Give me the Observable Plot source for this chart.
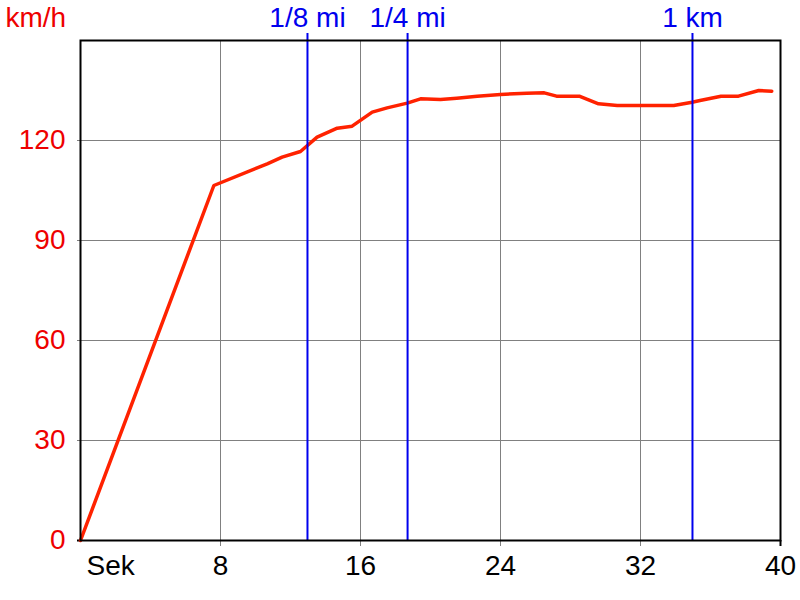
<!DOCTYPE html>
<html>
<head>
<meta charset="utf-8">
<script src="https://cdn.jsdelivr.net/npm/d3@7"></script>
<script src="https://cdn.jsdelivr.net/npm/@observablehq/plot@0.6"></script>
<style>
  html, body { margin: 0; padding: 0; background: #fff; }
  svg { display: block; }
</style>
</head>
<body>
<div id="chart"></div>
<script>
const seconds = [0, 7.62, 10.67, 11.52, 12.57, 13.52, 14.67, 15.52, 16.67, 17.52, 18.67, 19.43, 20.57, 21.5, 22.67, 24, 25.5, 26.5, 27.2, 28.5, 29.6, 30.67, 32, 33.9, 34.95, 35.4, 36.6, 37.6, 38.76, 39.5];
const speed   = [0, 106.5, 113, 115, 116.7, 121, 123.7, 124.3, 128.5, 129.8, 131.2, 132.5, 132.3, 132.7, 133.3, 133.8, 134.2, 134.3, 133.3, 133.3, 131, 130.5, 130.5, 130.5, 131.5, 132, 133.3, 133.3, 135, 134.8];
const markerTimes  = [12.97, 18.69, 34.97];
const markerLabels = ["1/8 mi", "1/4 mi", "1 km"];
const xTicks = [8, 16, 24, 32, 40];
const yTicks = [0, 30, 60, 90, 120];
const xUnit = "Sek";
const yUnit = "km/h";

const data = seconds.map((t, i) => ({t, v: speed[i]}));
const markers = markerTimes.map((t, i) => ({t, label: markerLabels[i]}));

const FONT = "Arial, 'Liberation Sans', sans-serif";
const FS = 28;
const RED = "#ff2200";
const TEXTRED = "#ee0000";
const BLUE = "#0000ee";
const GRAY = "#808080";

const chart = Plot.plot({
  width: 800,
  height: 600,
  marginLeft: 80,
  marginRight: 20,
  marginTop: 40,
  marginBottom: 60,
  style: {fontFamily: FONT, fontSize: FS + "px", background: "#fff"},
  x: {domain: [0, 40]},
  y: {domain: [0, 150]},
  marks: [
    Plot.gridX(xTicks.slice(0, -1), {stroke: GRAY, strokeOpacity: 1, strokeWidth: 1}),
    Plot.gridY(yTicks.slice(1), {stroke: GRAY, strokeOpacity: 1, strokeWidth: 1}),
    Plot.axisX(xTicks.slice(0, -1), {tickSize: 6, tickPadding: 9, stroke: GRAY, fill: "#000", fontSize: FS, label: null}),
    Plot.axisX([40], {tickSize: 6, tickPadding: 9, stroke: "#000", strokeWidth: 2, fill: "#000", fontSize: FS, label: null}),
    Plot.axisY(yTicks.slice(1), {tickSize: 3, tickPadding: 12, stroke: GRAY, fill: TEXTRED, fontSize: FS, label: null}),
    Plot.axisY([0], {tickSize: 3, tickPadding: 12, stroke: "#000", strokeWidth: 2, fill: TEXTRED, fontSize: FS, label: null}),
    Plot.text([xUnit], {x: 0, y: 0, text: d => d, textAnchor: "start", lineAnchor: "top", dx: 6, dy: 15, fill: "#000", fontSize: FS}),
    Plot.text([yUnit], {frameAnchor: "top-left", text: d => d, textAnchor: "start", lineAnchor: "middle", dx: -75, dy: -22, fill: TEXTRED, fontSize: FS}),
    Plot.line(data, {x: "t", y: "v", stroke: RED, strokeWidth: 3.5, strokeLinejoin: "round"}),
    Plot.ruleX(markers, {x: "t", insetTop: -7, stroke: BLUE, strokeWidth: 2}),
    Plot.text(markers, {x: "t", y: 150, text: "label", lineAnchor: "middle", dy: -22, fill: BLUE, fontSize: FS, clip: false}),
    Plot.frame({stroke: "#000", strokeWidth: 2})
  ]
});
document.getElementById("chart").appendChild(chart);
</script>
</body>
</html>
